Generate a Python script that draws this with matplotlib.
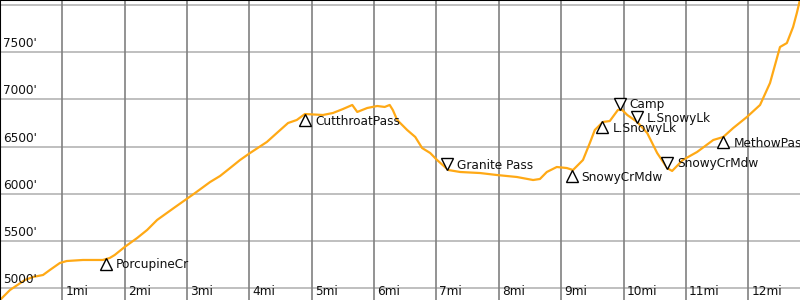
import numpy as np
import matplotlib
matplotlib.use('Agg')
import matplotlib.pyplot as plt
from matplotlib.transforms import ScaledTranslation

# elevation profile (miles, feet)
miles = [0.0, 0.16, 0.40, 0.53, 0.69, 0.80, 0.96, 1.07, 1.33, 1.65, 1.76, 1.84,
         2.00, 2.20, 2.36, 2.52, 2.81, 3.13, 3.37, 3.53, 3.69, 3.85, 4.01, 4.28,
         4.44, 4.62, 4.76, 4.89, 5.18, 5.34, 5.50, 5.65, 5.73, 5.89, 6.05, 6.17,
         6.25, 6.30, 6.37, 6.53, 6.66, 6.77, 6.90, 7.01, 7.19, 7.38, 7.70, 7.97,
         8.29, 8.55, 8.66, 8.77, 8.93, 9.09, 9.19, 9.35, 9.46, 9.54, 9.67, 9.78,
         9.91, 9.98, 10.06, 10.22, 10.38, 10.54, 10.70, 10.78, 10.95, 11.18, 11.44,
         11.60, 11.76, 11.98, 12.19, 12.35, 12.51, 12.62, 12.72, 12.78, 12.83]
elev = [4875, 4981, 5087, 5119, 5140, 5193, 5267, 5288, 5299, 5299, 5320, 5352,
        5437, 5532, 5617, 5723, 5860, 6009, 6125, 6189, 6273, 6358, 6432, 6549,
        6644, 6750, 6782, 6845, 6835, 6856, 6898, 6941, 6867, 6909, 6930, 6920,
        6941, 6888, 6782, 6676, 6602, 6485, 6432, 6358, 6252, 6231, 6220, 6199,
        6178, 6146, 6157, 6231, 6284, 6273, 6252, 6358, 6538, 6676, 6761, 6771,
        6888, 6888, 6835, 6761, 6644, 6432, 6273, 6242, 6358, 6443, 6570,
        6602, 6697, 6814, 6941, 7174, 7555, 7597, 7767, 7915, 8053]

# waypoints: name, mile, elevation, up (True = climb marker)
wp_names = ['PorcupineCr', 'CutthroatPass', 'Granite Pass', 'SnowyCrMdw',
            'L.SnowyLk', 'Camp', 'L.SnowyLk', 'SnowyCrMdw', 'MethowPass']
wp_miles = [1.70, 4.89, 7.17, 9.17, 9.66, 9.94, 10.22, 10.70, 11.60]
wp_elev = [5320, 6845, 6252, 6252, 6771, 6888, 6750, 6263, 6612]
wp_up = [True, True, False, True, True, False, False, False, True]

y_ticks = [5000, 5500, 6000, 6500, 7000, 7500, 8000]
x_ticks = list(range(1, 13))

fig = plt.figure(figsize=(8, 3), dpi=100)
ax = fig.add_axes([0, 0, 1, 1])
ax.set_xlim(0, 800 / 62.35)
ax.set_ylim(4875, 8053)

fs = 8.7
for y in y_ticks:
    ax.axhline(y, color='#b4b4b4', lw=1.2, zorder=1)
    ax.annotate(f"{y}'", (0, y), xytext=(3, 2), textcoords='offset pixels',
                fontsize=fs, ha='left', va='bottom', color='#111111')
for x in x_ticks:
    ax.axvline(x, color='#808080', lw=1.2, zorder=1)
    ax.annotate(f"{x}mi", (x, 4875), xytext=(3, 2), textcoords='offset pixels',
                fontsize=fs, ha='left', va='bottom', color='#111111')

ax.plot(miles, elev, color='#ffa915', lw=1.6, zorder=2)

for name, m, e, up in zip(wp_names, wp_miles, wp_elev, wp_up):
    dy = -6 if up else 6
    off = ax.transData + ScaledTranslation(0, dy / 100, fig.dpi_scale_trans)
    ax.plot([m], [e], marker='^' if up else 'v', ms=8.5, mfc='white',
            mec='black', mew=1.0, transform=off, zorder=3, clip_on=False)
    ax.annotate(name, (m, e), xytext=(10, dy - 1), textcoords='offset pixels',
                fontsize=fs, ha='left', va='center', color='#111111', zorder=4)

ax.set_xticks([])
ax.set_yticks([])
for s in ['right', 'bottom']:
    ax.spines[s].set_visible(False)
for s in ['top', 'left']:
    ax.spines[s].set_color('black')
    ax.spines[s].set_linewidth(1.5)

fig.savefig('out.png', dpi=100)
